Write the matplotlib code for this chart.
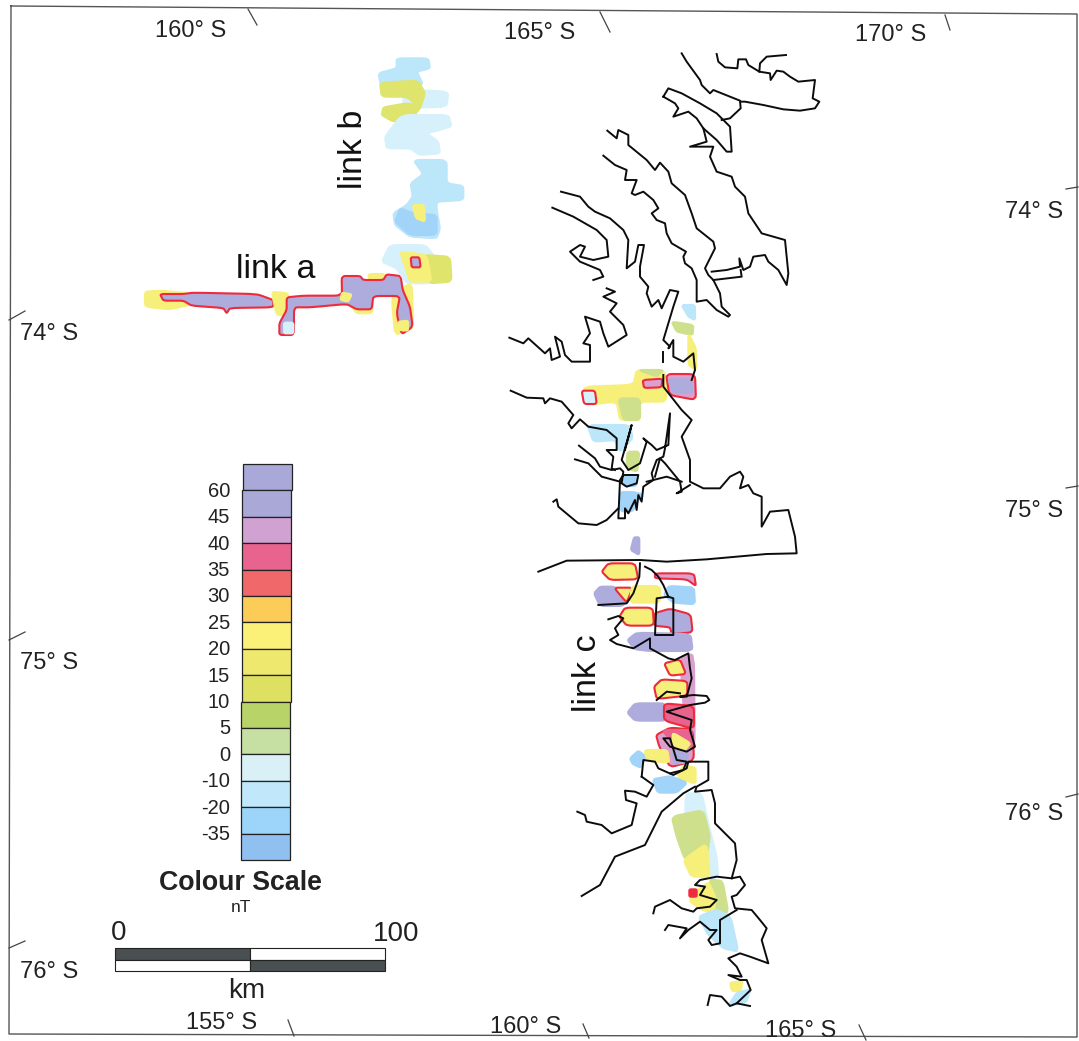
# %%
import numpy as np
import matplotlib.pyplot as plt
from matplotlib.patches import Polygon, Rectangle

plt.rcParams["font.family"] = ["Liberation Sans", "DejaVu Sans"]

Z1 = (500, 40)
Z2 = (500, 370)
Z3 = (540, 700)
Z4 = (130, 50)
Z10 = (590, 560)

# %% DATOS escala de colores
scale_labels = ["60", "45", "40", "35", "30", "25", "20", "15", "10", "5", "0", "-10", "-20", "-35"]
scale_colors = ["#a9a8d8", "#aaa8d6", "#cfa2d2", "#e8648e", "#f0686a", "#fbcc58", "#fbf078", "#eee86e",
                "#dde060", "#b8d468", "#c6e0a4", "#d8f0f6", "#c0e8fa", "#9cd4fa", "#90c0f0"]

c = dict(purple="#aeacdc", pink="#d9a0d0", red="#ee2a3c", rose="#e8648e", orange="#fbd45c", yellow="#f6f07a",
         lime="#dfe46c", green="#cfe08c", pale="#d6f1fb", sky="#bce6fa", blue="#a2d3f8")

# %% DATOS costa
coast_z1 = [
    [(650, 42), (655, 65), (675, 82), (712, 85), (715, 58), (738, 58), (745, 75), (778, 95), (780, 70), (800, 50), (858, 45)],
    [(778, 95), (810, 100), (812, 120), (830, 92), (850, 95), (870, 110), (895, 125), (945, 120), (938, 175), (958, 185),
     (945, 205), (900, 212), (850, 208), (790, 195), (735, 185), (722, 185)],
    [(545, 40), (560, 65), (600, 120), (605, 135), (630, 160), (640, 150), (720, 182), (722, 205), (690, 235), (665, 240)],
    [(490, 170), (505, 145), (545, 160), (600, 190), (650, 220), (690, 260), (695, 335), (680, 335), (650, 300), (610, 265),
     (590, 235), (565, 215), (520, 230), (535, 205), (525, 190), (490, 170)],
    [(322, 272), (350, 295), (355, 270), (385, 285), (385, 315), (440, 360), (465, 390), (480, 368), (505, 395), (515, 430),
     (555, 465), (575, 520), (590, 565), (640, 605), (645, 625), (615, 685), (625, 705), (640, 720), (660, 760), (665, 800),
     (690, 825), (685, 830), (650, 810), (620, 780), (590, 785), (590, 720), (575, 685), (555, 670), (550, 650), (558, 635),
     (515, 610), (500, 580), (495, 550), (470, 540), (455, 520), (475, 505), (460, 480), (430, 455), (405, 465), (395, 460),
     (410, 420), (375, 420), (380, 390), (345, 375), (310, 347)],
    [(635, 695), (680, 690), (720, 680), (718, 655), (730, 690), (750, 680), (760, 650), (795, 645), (805, 665), (835, 690),
     (860, 735), (865, 700), (855, 600), (785, 580), (745, 520), (735, 470), (705, 440), (695, 410), (650, 395), (630, 350),
     (640, 320), (570, 320), (620, 305), (610, 265)],
    [(640, 720), (725, 710), (722, 690)],
    [(183, 455), (240, 470), (265, 500), (285, 515), (330, 535), (370, 570), (385, 600), (380, 685), (405, 665), (415, 615),
     (432, 615), (420, 680), (420, 710), (445, 740), (440, 760), (455, 800), (475, 780), (485, 805), (510, 750), (535, 755),
     (520, 800), (505, 850), (490, 900), (510, 920), (505, 925), (520, 900), (520, 950), (550, 965), (580, 940), (585, 990),
     (575, 1020)],
    [(157, 503), (220, 530), (290, 570), (320, 600), (325, 650), (280, 660), (240, 650), (255, 620), (240, 615), (210, 635),
     (240, 665), (300, 690), (310, 710), (280, 720)],
    [(28, 893), (70, 910), (85, 895), (135, 940), (150, 925), (155, 960), (180, 950), (165, 890), (185, 905), (195, 945),
     (215, 965), (270, 965), (270, 915), (250, 910), (270, 880), (255, 830), (300, 845), (310, 880), (325, 920), (380, 885),
     (370, 855), (330, 815), (350, 790), (310, 770), (345, 755), (320, 745)],
    [(490, 935), (490, 965)],
]
coast_z2 = [
    [(32, 62), (80, 83), (130, 85), (135, 100), (150, 85), (185, 95), (220, 135), (205, 160), (215, 175), (240, 148),
     (265, 170), (320, 180), (350, 205), (350, 240), (320, 240), (340, 260), (335, 295), (345, 300)],
    [(237, 227), (285, 265), (300, 290), (335, 300), (360, 295), (370, 305), (365, 340), (380, 350), (410, 340), (415, 315),
     (370, 315), (360, 330), (355, 445), (375, 445), (375, 415), (385, 430), (405, 390), (410, 420), (415, 375), (425, 395),
     (430, 350), (460, 330), (455, 310), (470, 270), (490, 260), (495, 235), (510, 130), (505, 225), (470, 240), (455, 225),
     (430, 205), (440, 215), (420, 280), (385, 300), (365, 270), (395, 165), (375, 240)],
    [(225, 268), (265, 280), (305, 320), (360, 335)],
    [(160, 395), (170, 388), (175, 410), (205, 435), (235, 460), (290, 465), (320, 450), (355, 415)],
    [(490, 15), (490, 50), (545, 120), (575, 150), (545, 200), (570, 270), (570, 335), (610, 355), (660, 355), (690, 320),
     (720, 305), (730, 320), (720, 355), (745, 345), (760, 370), (785, 380), (785, 470), (810, 425), (865, 420), (885, 500),
     (890, 550), (800, 552), (620, 568), (500, 575), (420, 570), (200, 572), (115, 605)],
    [(465, 320), (480, 265), (495, 280), (540, 335), (545, 365), (530, 370), (570, 345)],
    [(440, 335), (500, 320), (545, 335)],
]
coast_z10 = [
    [(150, 10), (148, 50), (130, 100), (110, 130), (25, 135)],
    [(165, 20), (185, 30), (205, 50), (220, 75), (235, 110), (200, 115), (195, 225), (250, 225), (250, 115), (235, 110)],
    [(55, 178), (85, 168), (100, 175), (75, 205), (85, 225), (60, 240), (80, 252), (130, 265), (180, 235), (180, 265),
     (235, 295), (255, 300), (295, 280), (300, 325), (305, 355), (290, 410), (270, 410), (310, 405), (350, 408), (358, 420),
     (345, 428), (300, 435), (230, 455), (305, 480), (300, 510), (315, 560), (290, 575), (240, 560), (220, 535), (240, 535),
     (260, 600), (290, 605), (280, 630), (240, 640)],
    [(200, 420), (230, 395), (270, 400)],
]
coast_z3 = [
    [(305, 230), (310, 180), (345, 185), (355, 205), (400, 225), (440, 205), (445, 185), (505, 185), (505, 240), (470, 260),
     (465, 275), (515, 270), (525, 310), (525, 370), (550, 395), (585, 430), (590, 480), (575, 535), (600, 530), (615, 555),
     (590, 585), (575, 590), (585, 625), (635, 630), (660, 660), (680, 685), (665, 720), (685, 790), (630, 770), (600, 760),
     (565, 775), (590, 800), (605, 830), (565, 825), (600, 840), (620, 840), (632, 870), (590, 910), (630, 918)],
    [(305, 230), (340, 255), (320, 290), (285, 275), (255, 272), (258, 300), (290, 310), (275, 375), (215, 400), (185, 375),
     (140, 365), (135, 345), (112, 335)],
    [(125, 588), (180, 555), (225, 470), (315, 435), (365, 335), (430, 280), (465, 260)],
    [(575, 535), (530, 530), (480, 540), (465, 555), (495, 560), (480, 585), (530, 600), (510, 620), (470, 625), (460, 635),
     (425, 625), (390, 600), (345, 620), (340, 640)],
    [(375, 690), (385, 675), (440, 685), (420, 715), (445, 690), (480, 665), (510, 690), (530, 690), (505, 720), (515, 735),
     (540, 730), (540, 660), (590, 630)],
    [(503, 915), (510, 885), (545, 890), (570, 918), (590, 910)],
]

# %% DATOS anomalias: (recorte, color, borde rojo, vertices)
blobs = [
    # link a
    (Z4, "yellow", False, [(45, 725), (90, 722), (180, 730), (190, 762), (120, 778), (45, 770)]),
    (Z4, "purple", True, [(90, 732), (160, 732), (190, 728), (380, 732), (430, 750), (430, 772), (300, 774), (290, 790),
                          (280, 774), (185, 767), (160, 752), (100, 752)]),
    (Z4, "yellow", False, [(425, 725), (475, 730), (480, 795), (440, 795)]),
    (Z4, "yellow", False, [(655, 755), (730, 755), (725, 790), (680, 790)]),
    (Z4, "yellow", False, [(715, 672), (765, 672), (755, 705), (720, 705)]),
    (Z4, "yellow", False, [(785, 740), (845, 695), (850, 835), (795, 855)]),
    (Z4, "purple", True, [(635, 678), (690, 678), (700, 690), (760, 690), (770, 673), (812, 678), (818, 720), (840, 770),
                          (848, 830), (815, 853), (800, 790), (810, 738), (730, 738), (725, 778), (680, 778), (650, 762),
                          (540, 772), (492, 772), (492, 855), (448, 855), (448, 820), (470, 780), (470, 742), (520, 737),
                          (636, 737)]),
    (Z4, "yellow", False, [(636, 728), (665, 733), (655, 755), (632, 750)]),
    (Z4, "yellow", False, [(805, 815), (834, 812), (834, 842), (808, 840)]),
    (Z4, "pale", False, [(462, 818), (490, 818), (490, 850), (462, 850)]),
    # link b
    (Z4, "sky", False, [(800, 25), (895, 25), (900, 55), (860, 65), (880, 105), (755, 115), (745, 70), (800, 55)]),
    (Z4, "pale", False, [(820, 118), (955, 125), (950, 170), (820, 175)]),
    (Z4, "lime", False, [(750, 98), (865, 92), (885, 130), (870, 175), (830, 140), (755, 140)]),
    (Z4, "lime", False, [(760, 172), (830, 160), (875, 168), (845, 205), (790, 215), (755, 195)]),
    (Z4, "pale", False, [(815, 195), (955, 195), (965, 230), (890, 250), (925, 275), (930, 310), (870, 315), (840, 295),
                         (770, 295), (765, 260)]),
    (Z4, "sky", False, [(850, 330), (950, 330), (950, 400), (1000, 408), (1000, 450), (920, 455), (920, 480), (930, 535),
                        (920, 565), (840, 560), (795, 525), (790, 490), (830, 465), (848, 440), (842, 400), (880, 372)]),
    (Z4, "blue", False, [(810, 475), (850, 490), (920, 495), (920, 555), (840, 555), (795, 515)]),
    (Z4, "yellow", False, [(848, 465), (882, 465), (885, 515), (858, 505)]),
    (Z4, "pale", False, [(780, 585), (885, 585), (915, 620), (905, 700), (830, 700), (800, 655), (755, 635)]),
    (Z4, "lime", False, [(880, 615), (960, 620), (965, 695), (895, 700)]),
    (Z4, "yellow", False, [(810, 605), (890, 615), (905, 695), (840, 695), (825, 650)]),
    (Z4, "purple", True, [(842, 622), (868, 622), (872, 652), (845, 652)]),
    # link c arriba
    (Z1, "sky", False, [(545, 795), (585, 795), (585, 840), (565, 830)]),
    (Z1, "green", False, [(515, 845), (580, 855), (578, 885), (530, 875)]),
    (Z1, "yellow", False, [(565, 880), (588, 925), (588, 990), (565, 975)]),
    (Z2, "yellow", False, [(250, 50), (400, 45), (410, 0), (495, 0), (500, 95), (420, 95), (420, 150), (360, 150), (350, 95), (255, 105)]),
    (Z2, "green", False, [(355, 85), (420, 85), (420, 150), (370, 150)]),
    (Z2, "green", False, [(415, 0), (490, 0), (470, 20)]),
    (Z2, "pink", True, [(428, 30), (488, 26), (484, 52), (432, 54)]),
    (Z2, "pink", True, [(498, 12), (585, 12), (588, 90), (508, 75)]),
    (Z2, "purple", False, [(505, 28), (572, 28), (578, 68), (520, 68)]),
    (Z2, "pale", True, [(245, 62), (285, 62), (290, 102), (252, 102)]),
    (Z2, "sky", False, [(262, 165), (390, 165), (398, 205), (360, 245), (345, 210), (280, 215)]),
    (Z2, "green", False, [(382, 245), (418, 245), (412, 305), (380, 295)]),
    (Z2, "blue", False, [(368, 316), (412, 316), (408, 348), (372, 348)]),
    (Z2, "blue", False, [(362, 366), (398, 366), (425, 372), (398, 424), (362, 424)]),
    (Z2, "purple", False, [(402, 502), (418, 502), (418, 555), (392, 540)]),
    # link c
    (Z10, "yellow", True, [(35, 35), (55, 10), (135, 10), (145, 58), (60, 60)]),
    (Z10, "pink", True, [(195, 40), (312, 40), (318, 78), (290, 58), (195, 55)]),
    (Z10, "purple", False, [(12, 100), (30, 80), (75, 80), (112, 125), (95, 138), (30, 138)]),
    (Z10, "yellow", True, [(72, 83), (128, 83), (110, 128)]),
    (Z10, "yellow", False, [(125, 78), (210, 78), (210, 128), (120, 128)]),
    (Z10, "blue", False, [(235, 78), (312, 82), (315, 133), (250, 128), (222, 105)]),
    (Z10, "yellow", True, [(88, 170), (105, 143), (188, 143), (192, 197), (110, 197)]),
    (Z10, "purple", True, [(192, 160), (240, 146), (302, 163), (308, 217), (245, 222), (240, 202), (192, 197)]),
    (Z10, "purple", False, [(112, 240), (140, 218), (302, 222), (308, 273), (180, 273), (135, 268)]),
    (Z10, "pink", False, [(270, 290), (312, 282), (314, 565), (290, 565)]),
    (Z10, "yellow", True, [(222, 310), (270, 298), (288, 342), (240, 347)]),
    (Z10, "yellow", True, [(192, 380), (215, 358), (292, 363), (292, 407), (200, 417)]),
    (Z10, "purple", False, [(112, 458), (135, 430), (228, 430), (232, 482), (135, 482)]),
    (Z10, "rose", True, [(222, 430), (312, 438), (312, 507), (222, 482)]),
    (Z10, "pink", True, [(198, 525), (240, 503), (308, 508), (312, 602), (240, 622), (208, 560)]),
    (Z10, "rose", False, [(215, 510), (305, 510), (308, 560), (260, 560)]),
    (Z10, "yellow", False, [(248, 518), (302, 550), (282, 572), (248, 552)]),
    (Z10, "purple", False, [(248, 573), (292, 573), (292, 607), (253, 612)]),
    (Z10, "blue", False, [(120, 595), (145, 572), (168, 590), (152, 623), (128, 612)]),
    (Z10, "yellow", False, [(163, 570), (232, 570), (238, 608), (173, 603)]),
    (Z10, "yellow", False, [(278, 618), (317, 622), (317, 672), (262, 652)]),
    (Z10, "blue", False, [(188, 658), (240, 648), (292, 668), (260, 698), (203, 698)]),
    # link c abajo
    (Z3, "pale", False, [(435, 280), (485, 280), (505, 370), (530, 470), (535, 535), (440, 525)]),
    (Z3, "green", False, [(395, 350), (490, 330), (510, 410), (500, 470), (435, 480), (410, 410)]),
    (Z3, "yellow", False, [(430, 480), (500, 430), (510, 530), (455, 530)]),
    (Z3, "yellow", False, [(455, 580), (520, 540), (545, 550), (562, 638), (490, 632), (450, 605)]),
    (Z3, "green", False, [(508, 538), (548, 543), (565, 638), (528, 642), (533, 590)]),
    (Z3, "red", False, [(448, 568), (470, 568), (470, 590), (448, 590)]),
    (Z3, "sky", False, [(475, 650), (530, 628), (572, 650), (595, 755), (550, 745), (505, 705)]),
    (Z3, "yellow", False, [(570, 848), (607, 843), (602, 873), (576, 873)]),
    (Z3, "sky", False, [(565, 918), (590, 878), (632, 868), (618, 908)]),
]

# %% DATOS reticula
top_labels = [("160° S", 191, 31), ("165° S", 540, 33), ("170° S", 891, 35)]
bottom_labels = [("155° S", 222, 1023), ("160° S", 526, 1027), ("165° S", 801, 1031)]
left_labels = [("74° S", 49, 334), ("75° S", 49, 663), ("76° S", 49, 972)]
right_labels = [("74° S", 1034, 212), ("75° S", 1034, 511), ("76° S", 1034, 814)]
grid_ticks = [((248, 9), (257, 25)), ((600, 12), (610, 32)), ((945, 15), (950, 30)),
              ((288, 1020), (294, 1036)), ((583, 1024), (589, 1038)), ((859, 1025), (866, 1040)),
              ((9, 320), (25, 311)), ((9, 640), (25, 632)), ((9, 948), (25, 941)),
              ((1066, 189), (1078, 187)), ((1066, 488), (1078, 486)), ((1066, 797), (1078, 794))]
frame_x = [11, 1077, 1077, 9, 11]
frame_y = [6, 14, 1037, 1034, 6]


def recorte(pts, z):
    return np.array(pts) / 3 + z


def redondear(xy, n=2, t=0.12):
    # corte de esquinas chico: las manchas son bloques por linea de vuelo, no globos
    for _ in range(n):
        sig = np.roll(xy, -1, axis=0)
        xy = np.column_stack(((1 - t) * xy + t * sig, t * xy + (1 - t) * sig)).reshape(-1, 2)
    return xy


fig = plt.figure(figsize=(10.79, 10.41), dpi=100)
ax = fig.add_axes([0, 0, 1, 1])
ax.set_xlim(0, 1079)
ax.set_ylim(1041, 0)
ax.axis("off")

ax.plot(frame_x, frame_y, color="#555555", lw=1.0)
for p, q in grid_ticks:
    ax.plot([p[0], q[0]], [p[1], q[1]], color="#444444", lw=0.9)

for z, col, borde, pts in blobs:
    ax.add_patch(Polygon(redondear(recorte(pts, z)), closed=True, facecolor=c[col],
                         edgecolor=c["red"] if borde else c[col],
                         lw=1.5, joinstyle="round", zorder=2))

for z, lineas in [(Z1, coast_z1), (Z2, coast_z2), (Z10, coast_z10), (Z3, coast_z3)]:
    for linea in lineas:
        xy = recorte(linea, z)
        ax.plot(xy[:, 0], xy[:, 1], color="#0c0c0c", lw=1.4, solid_joinstyle="round", zorder=3)

# Escala de colores
bar_top, bar_h = 464, 26.4
for i, col in enumerate(scale_colors):
    ax.add_patch(Rectangle((242.5 - i * 0.12, bar_top + i * bar_h), 49, bar_h, facecolor=col,
                           edgecolor="#222222", lw=0.9, zorder=2))
for i, lab in enumerate(scale_labels):
    ax.text(230, bar_top + (i + 1) * bar_h + 1, lab, ha="right", va="center", fontsize=14.5, color="#222222")

ax.text(240.5, 883, "Colour Scale", ha="center", va="center", fontsize=19.3, fontweight="bold", color="#222222")
ax.text(241, 907, "nT", ha="center", va="center", fontsize=12.5, color="#222222")

# Barra de km
ax.add_patch(Rectangle((115, 948), 135, 12, facecolor="#4a5052", edgecolor="#222222", lw=0.8))
ax.add_patch(Rectangle((250, 948), 135, 12, facecolor="white", edgecolor="#222222", lw=0.8))
ax.add_patch(Rectangle((115, 960), 135, 11, facecolor="white", edgecolor="#222222", lw=0.8))
ax.add_patch(Rectangle((250, 960), 135, 11, facecolor="#4a5052", edgecolor="#222222", lw=0.8))
ax.text(119, 933, "0", ha="center", va="center", fontsize=20, color="#222222")
ax.text(396, 934, "100", ha="center", va="center", fontsize=20, color="#222222")
ax.text(247, 991, "km", ha="center", va="center", fontsize=20, color="#222222")

for txt, x, y in top_labels + bottom_labels + left_labels + right_labels:
    ax.text(x, y, txt, ha="center", va="center", fontsize=17, color="#222222")

ax.text(276, 270, "link a", ha="center", va="center", fontsize=24.5, color="#111111")
ax.text(353, 149, "link b", ha="center", va="center", rotation=90, fontsize=24.5, color="#111111")
ax.text(587, 673, "link c", ha="center", va="center", rotation=90, fontsize=24.5, color="#111111")

fig.savefig("out.png", dpi=100)
